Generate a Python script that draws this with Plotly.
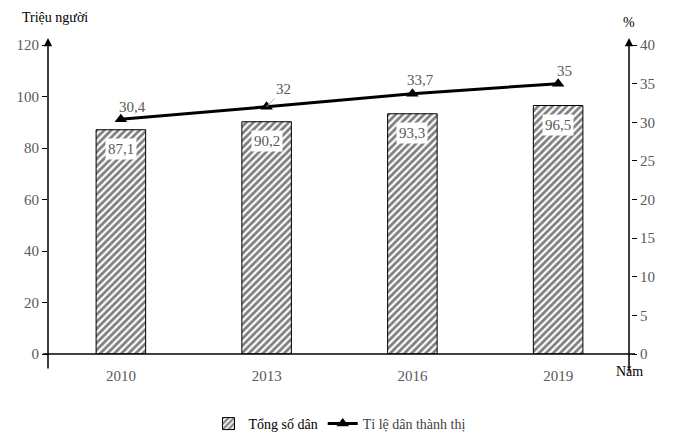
import plotly.graph_objects as go

years = ["2010", "2013", "2016", "2019"]
population = [87.1, 90.2, 93.3, 96.5]
population_labels = ["87,1", "90,2", "93,3", "96,5"]
urban_rate = [30.4, 32, 33.7, 35]
urban_labels = ["30,4", "32", "33,7", "35"]
left_ticks = [0, 20, 40, 60, 80, 100, 120]
right_ticks = [0, 5, 10, 15, 20, 25, 30, 35, 40]

FONT = "Liberation Serif, Times New Roman, serif"
GRAY = "#595959"

fig = go.Figure()
fig.add_trace(go.Bar(
    x=years, y=population, name="Tổng số dân", width=0.34,
    marker=dict(color="white", line=dict(color="black", width=1),
                pattern=dict(shape="/", fgcolor="black", bgcolor="white", size=5, solidity=0.55)),
    yaxis="y",
))
fig.add_trace(go.Scatter(
    x=years, y=urban_rate, name="<span style='color:#404040'>Tỉ lệ dân thành thị</span>",
    mode="lines+markers", line=dict(color="black", width=3),
    marker=dict(symbol="triangle-up", size=11, color="black"),
    yaxis="y2",
))

annotations = []
for i, (v, t) in enumerate(zip(population, population_labels)):
    annotations.append(dict(x=i, y=v, xref="x", yref="y", text=t, showarrow=False,
                            yshift=-19, bgcolor="white", borderpad=2,
                            font=dict(family=FONT, size=15, color=GRAY)))
offsets = [(12, 12), (17, 18), (8, 14), (6, 13)]
for i, (v, t) in enumerate(zip(urban_rate, urban_labels)):
    dx, dy = offsets[i]
    if i == 1:
        annotations.append(dict(x=i, y=v, xref="x", yref="y2", text=t, showarrow=True,
                                ax=dx, ay=-dy, arrowhead=0, arrowwidth=1, arrowcolor="#b0b0b0",
                                font=dict(family=FONT, size=15, color=GRAY)))
    else:
        annotations.append(dict(x=i, y=v, xref="x", yref="y2", text=t, showarrow=False,
                                xshift=dx, yshift=dy,
                                font=dict(family=FONT, size=15, color=GRAY)))

# axis lines with arrows
annotations.append(dict(x=0, y=1.0227, xref="paper", yref="paper", ax=0, ay=332,
                        showarrow=True, arrowhead=2, arrowsize=1.1, arrowwidth=1.5,
                        arrowcolor="black", text=""))
annotations.append(dict(x=0.9966, y=1.0227, xref="paper", yref="paper", ax=0, ay=335,
                        showarrow=True, arrowhead=2, arrowsize=1.1, arrowwidth=1.5,
                        arrowcolor="black", text=""))
annotations.append(dict(x=0.012, y=1.0906, xref="paper", yref="paper", text="Triệu người",
                        xanchor="center", yanchor="middle",
                        showarrow=False, font=dict(family=FONT, size=14, color="black")))
annotations.append(dict(x=0.9966, y=1.0744, xref="paper", yref="paper", text="%",
                        xanchor="center", yanchor="middle",
                        showarrow=False, font=dict(family=FONT, size=14, color="black")))
annotations.append(dict(x=0.998, y=-0.058, xref="paper", yref="paper", text="Năm",
                        xanchor="center", yanchor="middle",
                        showarrow=False, font=dict(family=FONT, size=14, color="black")))

fig.update_layout(
    width=667, height=427,
    margin=dict(l=40, r=44, t=37, b=81, autoexpand=False),
    paper_bgcolor="white", plot_bgcolor="white",
    font=dict(family=FONT, size=15, color=GRAY),
    showlegend=True,
    legend=dict(orientation="h", x=0.5, xanchor="center", y=-0.2265, yanchor="middle",
                font=dict(family=FONT, size=14, color="black"), itemwidth=30,
                tracegroupgap=0),
    xaxis=dict(type="category", range=[-0.5, 3.5], showgrid=False, showline=False, zeroline=False,
               ticks="outside", ticklen=8, tickcolor="rgba(0,0,0,0)",
               tickfont=dict(family=FONT, size=15, color=GRAY)),
    yaxis=dict(range=[0, 120], tickvals=left_ticks, showgrid=False, zeroline=False,
               showline=False, ticks="outside", ticklen=5, tickcolor="black",
               tickfont=dict(family=FONT, size=15, color=GRAY)),
    yaxis2=dict(range=[0, 40], tickvals=right_ticks, overlaying="y", side="right",
                showgrid=False, zeroline=False, showline=False, ticks="outside",
                ticklen=5, tickcolor="black",
                tickfont=dict(family=FONT, size=15, color=GRAY)),
    annotations=annotations,
    shapes=[dict(type="line", xref="paper", yref="paper", x0=-0.0086, x1=1.0069,
                 y0=0, y1=0, line=dict(color="black", width=1.5))],
    bargap=0.66,
)

fig.write_html("out.html")
